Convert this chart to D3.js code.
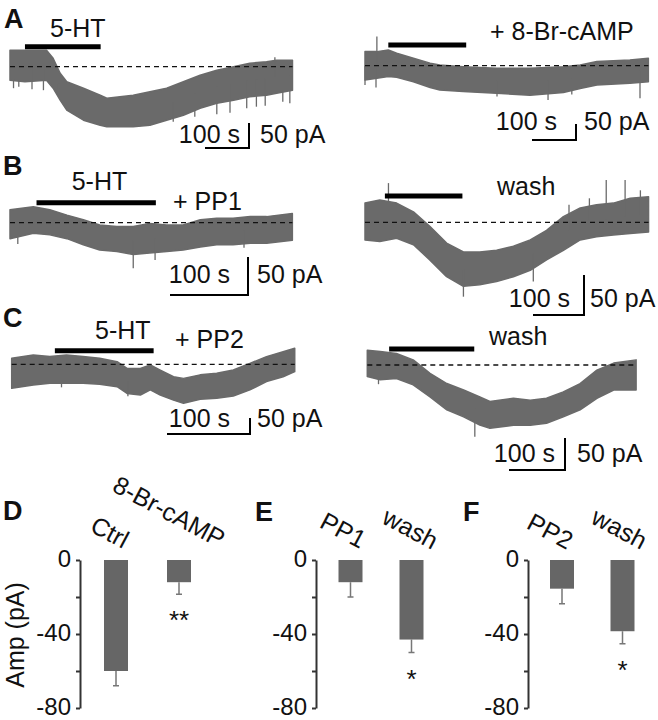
<!DOCTYPE html>
<html>
<head>
<meta charset="utf-8">
<script src="https://cdn.jsdelivr.net/npm/d3@7"></script>
<style>
  body { margin: 0; background: #fff; }
  text { font-family: "Liberation Sans", Arial, sans-serif; fill: #111; }
</style>
</head>
<body>
<script>
// ---- traces: time (s), upper / lower edge of the noisy current (pA, vs baseline)
const timeA1  = [0, 34, 83, 98, 114, 129, 167, 205, 220, 280, 318, 356, 394, 432, 470, 508, 545, 583, 606, 642]
const upperA1 = [33, 33, 33, 17, -13, -30, -43, -57, -63, -57, -50, -43, -30, -17, -7, 0, 7, 10, 13, 13]
const lowerA1 = [-27, -30, -27, -43, -67, -87, -107, -117, -120, -120, -117, -107, -97, -83, -73, -67, -60, -57, -53, -47]
const spikesA1 = [[8, -43], [20, -40], [50, -45], [76, -47], [110, -44], [371, -110], [420, -100], [470, -95],
                  [500, -92], [538, -83], [560, -80], [580, -78], [620, -70], [636, -73], [602, 19]]

const timeA2  = [0, 27, 53, 72, 110, 148, 170, 223, 299, 375, 451, 489, 527, 602, 644]
const upperA2 = [44, 44, 49, 39, 23, 8, 2, -3, -8, -8, -3, 2, 13, 18, 23]
const lowerA2 = [-45, -39, -34, -36, -50, -68, -76, -81, -86, -92, -84, -71, -60, -55, -50]
const spikesA2 = [[27, 91], [25, -68], [0, -60], [300, -96], [416, -107], [470, -90], [625, -102]]

const timeB1  = [0, 30, 51, 73, 94, 115, 137, 158, 179, 201, 222, 244, 265, 286, 308, 329, 362]
const upperB1 = [17, 21, 17, 10, 4, -3, -5, -5, -1, -3, -3, 4, 6, 6, 8, 8, 12]
const lowerB1 = [-21, -14, -16, -21, -29, -36, -38, -42, -40, -38, -36, -32, -29, -29, -27, -27, -23]
const spikesB1 = [[158, -60], [186, -49], [10, -28], [300, -33]]

const timeB2  = [0, 29, 62, 95, 127, 160, 193, 225, 258, 291, 324, 356, 389, 422, 454, 487, 520, 556]
const upperB2 = [24, 28, 24, 13, -5, -26, -37, -37, -35, -30, -22, -10, 7, 18, 22, 24, 30, 32]
const lowerB2 = [-22, -24, -20, -28, -47, -68, -80, -78, -74, -68, -60, -47, -35, -22, -18, -16, -14, -12]
const spikesB2 = [[193, -93], [330, -74], [46, 49], [400, 22], [440, 30], [473, 53], [510, 53], [540, 40]]

const timeC1  = [0, 26, 46, 66, 86, 106, 127, 139, 155, 167, 179, 195, 207, 227, 247, 267, 287, 307, 327, 341]
const upperC1 = [19, 29, 24, 29, 24, 19, 8, -13, -13, -2, -18, -39, -44, -33, -28, -18, 3, 24, 39, 50]
const lowerC1 = [-75, -65, -59, -59, -59, -62, -70, -91, -96, -80, -96, -112, -122, -109, -106, -99, -80, -54, -39, -23]
const spikesC1 = [[60, -72], [140, -100]]

const timeC2  = [0, 23, 52, 82, 112, 142, 172, 201, 219, 261, 291, 320, 350, 380, 410, 440, 480]
const upperC2 = [23, 21, 18, 8, -13, -29, -39, -50, -57, -52, -55, -52, -42, -29, -8, 3, 8]
const lowerC2 = [-18, -23, -21, -31, -50, -70, -81, -94, -99, -94, -94, -91, -81, -70, -52, -39, -39]
const spikesC2 = [[192, -112], [20, -30]]

// drug application windows (s)
const drugWindows = { A1: [34, 206], A2: [53, 230], B1: [34, 187], B2: [39, 191], C1: [52, 171], C2: [39, 191] }
const scaleBarTime = 100   // s
const scaleBarAmp = 50     // pA

// ---- bar charts (pA)
const catsD = ["Ctrl", "8-Br-cAMP"], ampD = [-60, -12], errD = [8, 6.5], sigD = ["", "**"]
const catsE = ["PP1", "wash"], ampE = [-12, -43], errE = [8, 7], sigE = ["", "*"]
const catsF = ["PP2", "wash"], ampF = [-15.5, -38.5], errF = [8.2, 6.8], sigF = ["", "*"]
const yTickValues = [0, -20, -40, -60, -80]
const yTickLabels = [0, -40, -80]

const W = 658, H = 720
const traceColor = "#6a6a6a"

const svg = d3.select("body").append("svg")
    .attr("width", W).attr("height", H)

// layout of the six trace panels
const traces = [
    { id: "A1", t: timeA1, hi: upperA1, lo: lowerA1, sp: spikesA1, x0: 10, base: 66.7, sx: 0.44, sy: 0.5, barY: 46.7,
      corner: [249, 148], sLab: [-9, -5], pLab: 11 },
    { id: "A2", t: timeA2, hi: upperA2, lo: lowerA2, sp: spikesA2, x0: 365, base: 65.7, sx: 0.44, sy: 0.32, barY: 45,
      corner: [576, 140], sLab: [-19, -10], pLab: 8 },
    { id: "B1", t: timeB1, hi: upperB1, lo: lowerB1, sp: spikesB1, x0: 10, base: 222.7, sx: 0.78, sy: 0.76, barY: 202.7,
      corner: [248, 295], sLab: [-18, -12], pLab: 9 },
    { id: "B2", t: timeB2, hi: upperB2, lo: lowerB2, sp: spikesB2, x0: 365, base: 222.3, sx: 0.51, sy: 0.8, barY: 196,
      corner: [584, 315], sLab: [-14, -8], pLab: 6 },
    { id: "C1", t: timeC1, hi: upperC1, lo: lowerC1, sp: spikesC1, x0: 11.7, base: 364.3, sx: 0.83, sy: 0.32, barY: 350.7,
      corner: [250, 434], sLab: [-20, -7], pLab: 7 },
    { id: "C2", t: timeC2, hi: upperC2, lo: lowerC2, sp: spikesC2, x0: 367.3, base: 365, sx: 0.56, sy: 0.64, barY: 349,
      corner: [565, 470], sLab: [-10, -8], pLab: 12 }
]

traces.forEach(tr => {
    const tMax = tr.t[tr.t.length - 1]
    const x = d3.scaleLinear().domain([0, tMax]).range([tr.x0, tr.x0 + tMax * tr.sx])
    const y = d3.scaleLinear().domain([0, 100]).range([tr.base, tr.base - 100 * tr.sy])
    const g = svg.append("g")
    const pts = tr.t.map((t, i) => ({ t: t, hi: tr.hi[i], lo: tr.lo[i] }))

    const area = d3.area()
        .x(d => x(d.t))
        .y0(d => y(d.lo))
        .y1(d => y(d.hi))
    g.append("path")
        .datum(pts)
        .attr("d", area)
        .attr("fill", traceColor)
        .attr("stroke", traceColor)
        .attr("stroke-width", 1.5)
        .attr("stroke-linejoin", "round")

    // spikes start from the middle of the band
    const mid = t => {
        const i = Math.max(1, Math.min(tr.t.length - 1, d3.bisectLeft(tr.t, t)))
        const a = pts[i - 1], b = pts[i]
        const f = (t - a.t) / (b.t - a.t)
        return ((a.hi + a.lo) / 2) * (1 - f) + ((b.hi + b.lo) / 2) * f
    }
    g.selectAll(".spike")
        .data(tr.sp)
        .enter().append("line")
        .attr("x1", d => x(d[0])).attr("x2", d => x(d[0]))
        .attr("y1", d => y(mid(d[0]))).attr("y2", d => y(d[1]))
        .attr("stroke", traceColor)
        .attr("stroke-width", 1.3)

    // dashed baseline
    g.append("line")
        .attr("x1", x(0)).attr("x2", x(tMax))
        .attr("y1", y(0)).attr("y2", y(0))
        .attr("stroke", "#111")
        .attr("stroke-width", 1.3)
        .attr("stroke-dasharray", "5,4")

    // drug bar
    const w = drugWindows[tr.id]
    g.append("line")
        .attr("x1", x(w[0])).attr("x2", x(w[1]))
        .attr("y1", tr.barY).attr("y2", tr.barY)
        .attr("stroke", "#000")
        .attr("stroke-width", 5)

    // scale bars
    const cx = tr.corner[0], cy = tr.corner[1]
    g.append("path")
        .attr("d", `M${cx - scaleBarTime * tr.sx},${cy}H${cx}V${cy - scaleBarAmp * tr.sy}`)
        .attr("fill", "none")
        .attr("stroke", "#000")
        .attr("stroke-width", 2)
    g.append("text")
        .attr("x", cx + tr.sLab[0]).attr("y", cy + tr.sLab[1])
        .attr("text-anchor", "end")
        .attr("font-size", 25)
        .text(`${scaleBarTime} s`)
    g.append("text")
        .attr("x", cx + tr.pLab).attr("y", cy + tr.sLab[1])
        .attr("font-size", 25)
        .text(`${scaleBarAmp} pA`)
})

// drug / condition labels
const drugLabels = [
    ["5-HT", 50, 36.7], ["+ 8-Br-cAMP", 490, 40],
    ["5-HT", 71.7, 190], ["+ PP1", 173, 210], ["wash", 497, 195],
    ["5-HT", 95, 339.3], ["+ PP2", 175, 347.7], ["wash", 489, 345]
]
svg.selectAll(".drug")
    .data(drugLabels)
    .enter().append("text")
    .attr("x", d => d[1]).attr("y", d => d[2])
    .attr("font-size", 25)
    .text(d => d[0])

// panel letters
const panelLetters = [["A", 4, 28], ["B", 3, 175], ["C", 3, 327], ["D", 3, 520], ["E", 255, 521], ["F", 463, 521]]
svg.selectAll(".letter")
    .data(panelLetters)
    .enter().append("text")
    .attr("x", d => d[1]).attr("y", d => d[2])
    .attr("font-size", 27)
    .attr("font-weight", "bold")
    .text(d => d[0])

// ---- bar charts
const yAmp = d3.scaleLinear().domain([0, -80]).range([560, 708])
const barCharts = [
    { cats: catsD, amp: ampD, err: errD, sig: sigD, axisX: 80, centers: [116, 179], labEnd: [[123, 549], [219, 548]] },
    { cats: catsE, amp: ampE, err: errE, sig: sigE, axisX: 316, centers: [350.5, 411.5], labEnd: [[360, 549], [432, 550]] },
    { cats: catsF, amp: ampF, err: errF, sig: sigF, axisX: 528, centers: [562, 622.5], labEnd: [[567, 550], [641, 550]] }
]
const barW = 24

barCharts.forEach(bc => {
    const xc = d3.scalePoint().domain(bc.cats).range(bc.centers)
    const g = svg.append("g")

    const axis = d3.axisLeft(yAmp)
        .tickValues(yTickValues)
        .tickSize(4)
        .tickSizeOuter(0)
        .tickPadding(5)
        .tickFormat(d => yTickLabels.includes(d) ? d : "")
    const ax = g.append("g")
        .attr("transform", `translate(${bc.axisX},0)`)
        .call(axis)
    ax.select(".domain").attr("stroke", "#333").attr("stroke-width", 2)
    ax.selectAll(".tick line").attr("stroke", "#333").attr("stroke-width", 2)
    ax.selectAll(".tick text")
        .attr("font-size", 24)
        .attr("dy", "0.26em")
        .attr("font-family", "Liberation Sans, Arial, sans-serif")
        .attr("fill", "#111")

    const rows = bc.cats.map((c, i) => ({ c: c, v: bc.amp[i], e: bc.err[i], s: bc.sig[i], lab: bc.labEnd[i] }))

    // error bars (below the bar)
    g.selectAll(".err")
        .data(rows)
        .enter().append("path")
        .attr("d", d => {
            const cx = xc(d.c)
            return `M${cx},${yAmp(d.v)}V${yAmp(d.v - d.e)}M${cx - 3},${yAmp(d.v - d.e)}H${cx + 3}`
        })
        .attr("fill", "none")
        .attr("stroke", "#777")
        .attr("stroke-width", 1.5)

    g.selectAll(".bar")
        .data(rows)
        .enter().append("rect")
        .attr("x", d => xc(d.c) - barW / 2)
        .attr("width", barW)
        .attr("y", yAmp(0))
        .attr("height", d => yAmp(d.v) - yAmp(0))
        .attr("fill", "#666")

    g.selectAll(".sig")
        .data(rows)
        .enter().append("text")
        .attr("x", d => xc(d.c))
        .attr("y", d => yAmp(d.v - d.e) + 35)
        .attr("text-anchor", "middle")
        .attr("font-size", 26)
        .text(d => d.s)

    g.selectAll(".cat")
        .data(rows)
        .enter().append("text")
        .attr("transform", d => `translate(${d.lab[0]},${d.lab[1]}) rotate(28)`)
        .attr("text-anchor", "end")
        .attr("font-size", 25)
        .text(d => d.c)
})

svg.append("text")
    .attr("transform", "translate(24,635) rotate(-90)")
    .attr("text-anchor", "middle")
    .attr("font-size", 25)
    .text("Amp (pA)")
</script>
</body>
</html>
